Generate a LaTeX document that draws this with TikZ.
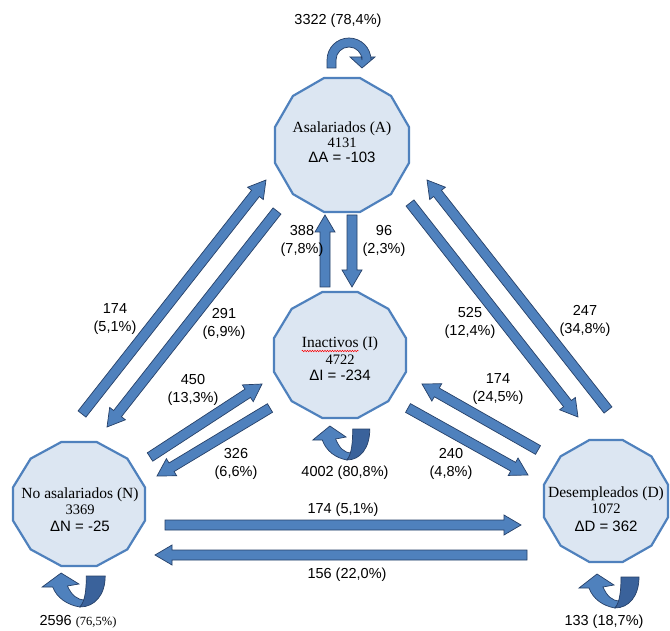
\documentclass[tikz,border=0pt]{standalone}
\usepackage{fontspec}
\setmainfont{Liberation Serif}
\newfontfamily\arial{Liberation Sans}
\usetikzlibrary{decorations.pathmorphing}
\definecolor{polyfill}{RGB}{220,230,242}
\definecolor{polyline}{RGB}{79,129,189}
\definecolor{arrfill}{RGB}{79,129,189}
\definecolor{arrline}{RGB}{38,64,104}
\definecolor{arrdark}{RGB}{58,98,155}
\tikzset{
  poly/.style={draw=polyline, fill=polyfill, line width=2.2pt, line join=miter},
  blockarrow/.style={draw=arrline, fill=arrfill, line width=0.7pt, line join=miter},
  lab/.style={font=\arial\fontsize{14.5}{17.5}\selectfont, align=center, inner sep=0pt},
  nametext/.style={anchor=base, inner sep=0pt, font=\fontsize{15.5}{16}\selectfont},
  numtext/.style={anchor=base, inner sep=0pt, font=\fontsize{14.5}{16}\selectfont},
  deltatext/.style={anchor=base, inner sep=0pt, font=\arial\fontsize{15}{16}\selectfont},
}
% block arrow from tail (#1,#2) to tip (#3,#4)
\newcommand\barrow[4]{%
  \pgfmathsetmacro\bang{atan2(#2-#4,#3-#1)}%
  \pgfmathsetmacro\blen{veclen(#3-#1,#4-#2)}%
  \pgfmathsetmacro\bhb{\blen-17}%
  \draw[blockarrow, shift={(#1,#2)}, rotate=\bang]
    (0,-5) -- (\bhb,-5) -- (\bhb,-10) -- (\blen,0) -- (\bhb,10) -- (\bhb,5) -- (0,5) -- cycle;}
% dodecagon: name, cx, cy, apothem x, apothem y
\newcommand\dodec[5]{%
  \draw[poly] plot[samples at={15,45,...,345}] ({#2+#4/cos(15)*cos(\x)},{#3+#5/cos(15)*sin(\x)}) -- cycle;
  \coordinate (#1) at (#2,#3);}
% U-shaped return arrow, bottom point at (#1,#2), x scale #3
\newcommand\uloop[3]{%
  \begin{scope}[shift={(#1,#2)}, xscale=#3]
    \draw[blockarrow] (0,0) .. controls (-12,-2) and (-22,-9) .. (-26,-20) -- (-36,-20) -- (-18,-34)
      -- (-1,-23) -- (-12,-21) .. controls (-8,-12) and (-3,-7) .. (5,-7) -- cycle;
    \draw[blockarrow, fill=arrdark] (6,-31) -- (24,-31) .. controls (24,-12) and (14,0) .. (0,0)
      .. controls (5,-6) and (6,-18) .. (6,-31) -- cycle;
  \end{scope}}
\begin{document}
\begin{tikzpicture}[x=1pt,y=-1pt]
\fill[white] (0,0) rectangle (670,631);
\useasboundingbox (0,0) rectangle (670,631);

% states
\dodec{A}{342}{145}{67}{67}
\dodec{I}{340}{355}{66}{63}
\dodec{N}{79}{504}{66}{62}
\dodec{D}{606}{501}{62}{61}

\node[nametext] (Aname) at (342,133) {Asalariados (A)};
\node[numtext] (Anum) at (342,148) {4131};
\node[deltatext] (Adelta) at (342,162.5) {ΔA = -103};
\node[nametext] (Iname) at (340,348) {Inactivos (I)};
\node[numtext] (Inum) at (340,365) {4722};
\node[deltatext] (Idelta) at (340,380.5) {ΔI = -234};
\node[nametext] (Nname) at (80,498) {No asalariados (N)};
\node[numtext] (Nnum) at (80,514) {3369};
\node[deltatext] (Ndelta) at (80,531) {ΔN = -25};
\node[nametext] (Dname) at (606,497) {Desempleados (D)};
\node[numtext] (Dnum) at (606,513) {1072};
\node[deltatext] (Ddelta) at (606,531.5) {ΔD = 362};
\draw[red, line width=0.5pt, decorate, decoration={snake, amplitude=0.7pt, segment length=2.5pt}]
  ([yshift=-3pt]Iname.base west) -- ++(57,0);

% straight block arrows
\barrow{82}{414}{266}{180}   % N -> A
\barrow{277}{211}{107}{427}  % A -> N
\barrow{325}{287}{325}{215}  % I -> A
\barrow{352}{215}{352}{287}  % A -> I
\barrow{150}{457}{262}{384}  % N -> I
\barrow{270}{408}{157}{476}  % I -> N
\barrow{538}{450}{422}{384}  % D -> I
\barrow{408}{408}{528}{475}  % I -> D
\barrow{410}{203}{578}{417}  % A -> D
\barrow{608}{410}{427}{180}  % D -> A
\barrow{165}{525}{521}{525}  % N -> D
\barrow{527}{555}{155}{555}  % D -> N

% self loops
\draw[blockarrow] (327,68) -- (327,60) arc[start angle=180, end angle=360, radius=22]
  -- (371,57) -- (375,57) -- (362,68) -- (350,57) -- (362,57) -- (362,60)
  arc[start angle=0, end angle=-180, radius=13] -- (336,68) -- cycle;
\uloop{347}{460}{0.95}
\uloop{80}{607}{1.05}
\uloop{615}{608}{1}

% labels
\node[lab] (lA) at (338,21) {3322 (78,4\%)};
\node[lab] (lIA) at (302,241) {388\\(7,8\%)};
\node[lab] (lAI) at (384,241) {96\\(2,3\%)};
\node[lab] (lNA) at (115,319) {174\\(5,1\%)};
\node[lab] (lAN) at (224,324) {291\\(6,9\%)};
\node[lab] (lNI) at (193,390) {450\\(13,3\%)};
\node[lab] (lIN) at (236,464) {326\\(6,6\%)};
\node[lab] (lI) at (345,473) {4002 (80,8\%)};
\node[lab] (lID) at (451,464) {240\\(4,8\%)};
\node[lab] (lDI) at (498,389) {174\\(24,5\%)};
\node[lab] (lAD) at (470,323) {525\\(12,4\%)};
\node[lab] (lDA) at (585,321) {247\\(34,8\%)};
\node[lab] (lND) at (343,510) {174 (5,1\%)};
\node[lab] (lDN) at (347,575) {156 (22,0\%)};
\node[lab] (lN) at (78,622) {2596 {\rmfamily\fontsize{12.5}{15}\selectfont(76,5\%)}};
\node[lab] (lD) at (604,622) {133 (18,7\%)};
\end{tikzpicture}
\end{document}
